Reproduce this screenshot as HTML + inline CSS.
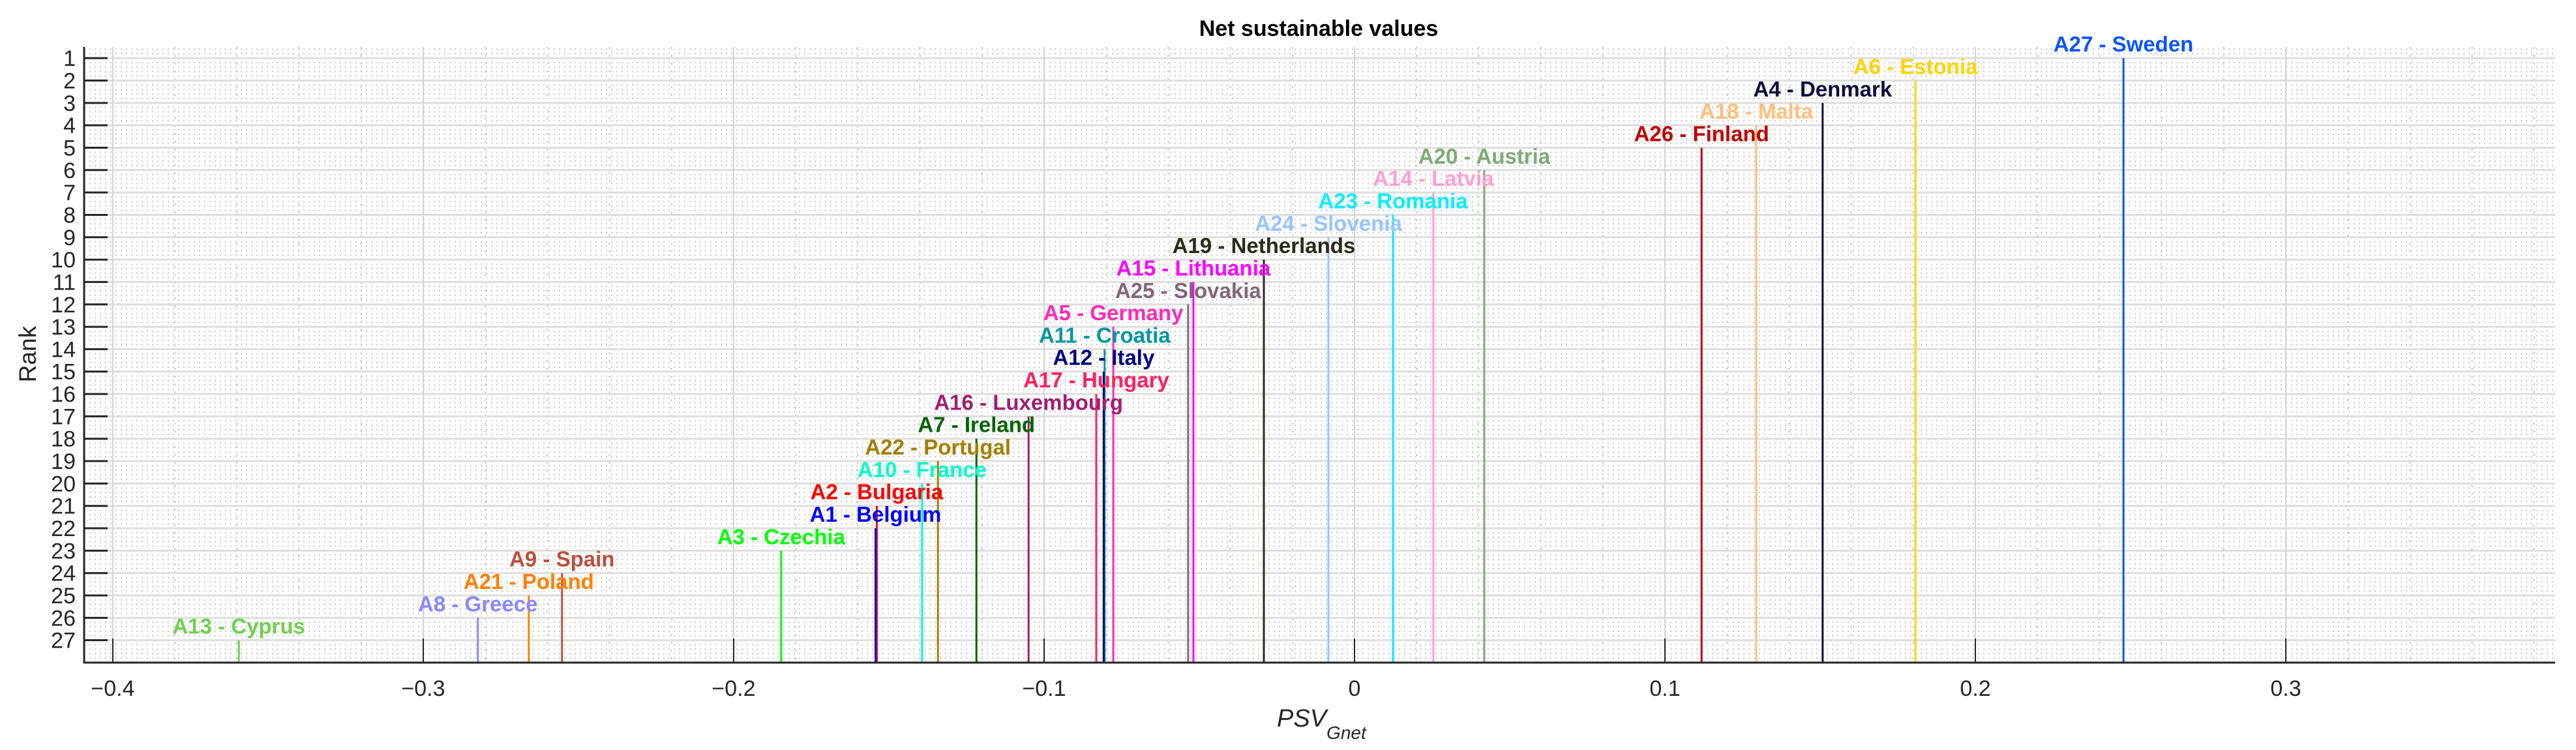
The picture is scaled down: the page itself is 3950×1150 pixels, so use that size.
<!DOCTYPE html>
<html><head><meta charset="utf-8"><title>Net sustainable values</title>
<style>html,body{margin:0;padding:0;background:#fff;}svg{display:block;}text{font-family:"Liberation Sans",Arial,sans-serif;}</style>
</head><body>
<svg id="chart" xmlns="http://www.w3.org/2000/svg" width="3950" height="1150" viewBox="0 0 3950 1150">
<rect width="3950" height="1150" fill="#fff"/>
<g id="grid"></g>
<g id="marks"></g>
<g id="axes"></g>
<text x="2022" y="55" text-anchor="middle" font-weight="bold" font-size="34" fill="#000">Net sustainable values</text>
<text transform="translate(55,543) rotate(-90)" text-anchor="middle" font-size="37" fill="#262626">Rank</text>
<text x="1958" y="1114" font-size="38" font-style="italic" fill="#262626">PSV<tspan font-size="28" dy="19">Gnet</tspan></text>
</svg>
<script>
const countries = ["A27 - Sweden","A6 - Estonia","A4 - Denmark","A18 - Malta","A26 - Finland","A20 - Austria","A14 - Latvia","A23 - Romania","A24 - Slovenia","A19 - Netherlands","A15 - Lithuania","A25 - Slovakia","A5 - Germany","A11 - Croatia","A12 - Italy","A17 - Hungary","A16 - Luxembourg","A7 - Ireland","A22 - Portugal","A10 - France","A2 - Bulgaria","A1 - Belgium","A3 - Czechia","A9 - Spain","A21 - Poland","A8 - Greece","A13 - Cyprus"];
const ranks = [1,2,3,4,5,6,7,8,9,10,11,12,13,14,15,16,17,18,19,20,21,22,23,24,25,26,27];
const values = [0.2477,0.1807,0.1508,0.1294,0.1118,0.0418,0.0254,0.0124,-0.0084,-0.0292,-0.0519,-0.0536,-0.0777,-0.0805,-0.0808,-0.0832,-0.1050,-0.1218,-0.1342,-0.1393,-0.1539,-0.1543,-0.1847,-0.2553,-0.2660,-0.2824,-0.3594];
const colors = ["#0a55ff","#ffd400","#0d0d3d","#ffbf80","#c00000","#80aa78","#ffa0d0","#00f0ff","#99c4ff","#2b2b1a","#ff00ff","#80687a","#ff2ab4","#00989e","#00007f","#ff2060","#9e1f70","#006400","#a08000","#00ffc8","#ff0000","#0000ff","#00ff00","#b85040","#ff8000","#8888ff","#70d050"];
const xTicks = [-0.4,-0.3,-0.2,-0.1,0,0.1,0.2,0.3];
const xTickLabels = ["\u22120.4","\u22120.3","\u22120.2","\u22120.1","0","0.1","0.2","0.3"];
const yTicks = [1,2,3,4,5,6,7,8,9,10,11,12,13,14,15,16,17,18,19,20,21,22,23,24,25,26,27];

const NS="http://www.w3.org/2000/svg";
const L=129,R=3918,T=72,B=1016;
const X0=-0.40924,X1=0.38676,Y0=0.5,Y1=28;
function xs(v){return L+(v-X0)/(X1-X0)*(R-L);}
function ys(r){return T+(r-Y0)/(Y1-Y0)*(B-T);}
function mk(tag,attrs,parent){const e=document.createElementNS(NS,tag);for(const k in attrs)e.setAttribute(k,attrs[k]);parent.appendChild(e);return e;}
const grid=document.getElementById('grid'),marks=document.getElementById('marks'),axes=document.getElementById('axes');

// minor horizontal dotted
for(let r=Y0+0.1;r<Y1;r+=0.2){
  const e=mk('line',{x1:L,x2:R,y1:ys(r),y2:ys(r),stroke:'#c8c8c8','stroke-width':2,'stroke-dasharray':'2,6'},grid);
  
  
}
// minor vertical dotted at 0.02
for(let k=-20;k<=19;k++){
  const v=k*0.02;
  if(Math.abs(Math.round(v*10)-v*10)<1e-6)continue;
  const e=mk('line',{x1:xs(v),x2:xs(v),y1:T,y2:B,stroke:'#c8c8c8','stroke-width':2,'stroke-dasharray':'3,9'},grid);
  
  
}
// major gridlines
yTicks.forEach(r=>{
  const e=mk('line',{x1:L,x2:R,y1:ys(r),y2:ys(r),stroke:'#dedede','stroke-width':3},grid);
  
  
});
xTicks.forEach(v=>{
  const e=mk('line',{x1:xs(v),x2:xs(v),y1:T,y2:B,stroke:'#d4d4d4','stroke-width':2},grid);
  
  
});
// stems + labels
values.forEach((v,i)=>{
  const x=xs(v),y=ys(ranks[i]);
  const ln=mk('line',{x1:x,x2:x,y1:y,y2:B,stroke:colors[i],'stroke-width':3},marks);
  
  
  const t=mk('text',{x:x,y:y-10,'text-anchor':'middle','font-size':33,'font-weight':'bold',fill:colors[i]},marks);
  t.textContent=countries[i];
  
  
});
// axes lines
const ax=mk('line',{x1:L,x2:L,y1:T,y2:B+1,stroke:'#262626','stroke-width':3},axes);


const bx=mk('line',{x1:L-1,x2:R,y1:B,y2:B,stroke:'#262626','stroke-width':3},axes);


yTicks.forEach(r=>{
  const tk=mk('line',{x1:L,x2:L+36,y1:ys(r),y2:ys(r),stroke:'#262626','stroke-width':3},axes);
  
  
  const t=mk('text',{x:116,y:ys(r)+12,'text-anchor':'end','font-size':34,fill:'#262626'},axes);
  t.textContent=String(r);
  
  
});
xTicks.forEach((v,i)=>{
  const tk=mk('line',{x1:xs(v),x2:xs(v),y1:B,y2:B-37,stroke:'#262626','stroke-width':2},axes);
  
  
  const t=mk('text',{x:xs(v),y:1067,'text-anchor':'middle','font-size':34,fill:'#262626'},axes);
  t.textContent=xTickLabels[i];
  
  
});
</script>
</body></html>
